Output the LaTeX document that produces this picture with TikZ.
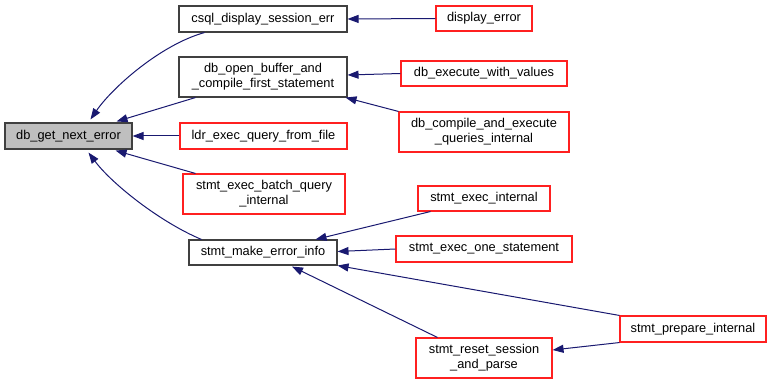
\documentclass[tikz,border=0pt]{standalone}
\usepackage{fontspec}
\setmainfont{Liberation Sans}
\usetikzlibrary{calc,arrows.meta}

\definecolor{edgeblue}{HTML}{191970}
\definecolor{boxgray}{HTML}{BFBFBF}
\definecolor{boxline}{HTML}{404040}
\definecolor{boxred}{HTML}{FF2020}

\tikzset{
	fn/.style={draw, line width=1.1pt, inner sep=0pt, align=center,
		font=\fontsize{12.8}{15}\selectfont},
	rootfn/.style={fn, draw=boxline, fill=boxgray},
	callfn/.style={fn, draw=boxline},
	redfn/.style={fn, draw=boxred},
	edge/.style={draw=edgeblue, line width=1pt, -{Triangle[length=11pt,width=8pt]}}
}

\begin{document}
\begin{tikzpicture}[x=1pt, y=-1pt]
		%%%%% START %%%%%
		\useasboundingbox (0,0) rectangle (772,385);
		
		% first column
		\node[rootfn, minimum width=127, minimum height=26] (getnexterr) at (68.5,136) {db\_get\_next\_error};
		
		% second column
		\node[callfn, minimum width=168, minimum height=26] (csqldisp) at (263,19) {csql\_display\_session\_err};
		\node[callfn, minimum width=168, minimum height=40] (openbuf) at (263,77) {db\_open\_buffer\_and\\\_compile\_first\_statement};
		\node[redfn, minimum width=167, minimum height=26] (ldrexec) at (263.5,136) {ldr\_exec\_query\_from\_file};
		\node[redfn, minimum width=162, minimum height=40] (batchquery) at (264,194) {stmt\_exec\_batch\_query\\\_internal};
		\node[callfn, minimum width=148, minimum height=25] (makeerr) at (263,252.5) {stmt\_make\_error\_info};
		
		% third column
		\node[redfn, minimum width=96, minimum height=25] (disperr) at (484,18.5) {display\_error};
		\node[redfn, minimum width=166, minimum height=25] (execvalues) at (484,73.5) {db\_execute\_with\_values};
		\node[redfn, minimum width=170, minimum height=40] (compileexec) at (484,132) {db\_compile\_and\_execute\\\_queries\_internal};
		\node[redfn, minimum width=132, minimum height=25] (execinternal) at (484,198.5) {stmt\_exec\_internal};
		\node[redfn, minimum width=176, minimum height=26] (execone) at (484,249) {stmt\_exec\_one\_statement};
		\node[redfn, minimum width=136, minimum height=40] (resetparse) at (484,358) {stmt\_reset\_session\\\_and\_parse};
		
		% fourth column
		\node[redfn, minimum width=146, minimum height=26] (prepare) at (693,329) {stmt\_prepare\_internal};
		
		% calls into db_get_next_error
		\draw[edge] ($(csqldisp.south west)+(26,0)$) .. controls (160,45) and (112,88) .. ($(getnexterr.north)+(22,-3)$);
		\draw[edge] ($(openbuf.south west)+(17,0)$) -- ($(getnexterr.north east)+(-16,-1)$);
		\draw[edge] (ldrexec.west) -- (getnexterr.east);
		\draw[edge] ($(batchquery.north west)+(13,0)$) -- ($(getnexterr.south east)+(-17,1)$);
		\draw[edge] ($(makeerr.north west)+(13,0)$) .. controls (160,222) and (112,184) .. ($(getnexterr.south)+(20,3)$);
		
		\draw[edge] (disperr.west) -- (csqldisp.east);
		\draw[edge] (execvalues.west) -- ($(openbuf.east)+(0,-2)$);
		\draw[edge] (compileexec.north west) -- ($(openbuf.south east)+(-2,0)$);
		
		% calls into stmt_make_error_info
		\draw[edge] ($(execinternal.south west)+(13,0)$) -- ($(makeerr.north east)+(-22,0)$);
		\draw[edge] (execone.west) -- ($(makeerr.east)+(0,-1)$);
		\draw[edge] (prepare.north west) -- (makeerr.south east);
		\draw[edge] ($(resetparse.north west)+(22,0)$) -- ($(makeerr.south)+(29,1)$);
		\draw[edge] (prepare.south west) -- ($(resetparse.east)+(0,-8)$);
		
		%%%%% END %%%%%
\end{tikzpicture}
\end{document}
